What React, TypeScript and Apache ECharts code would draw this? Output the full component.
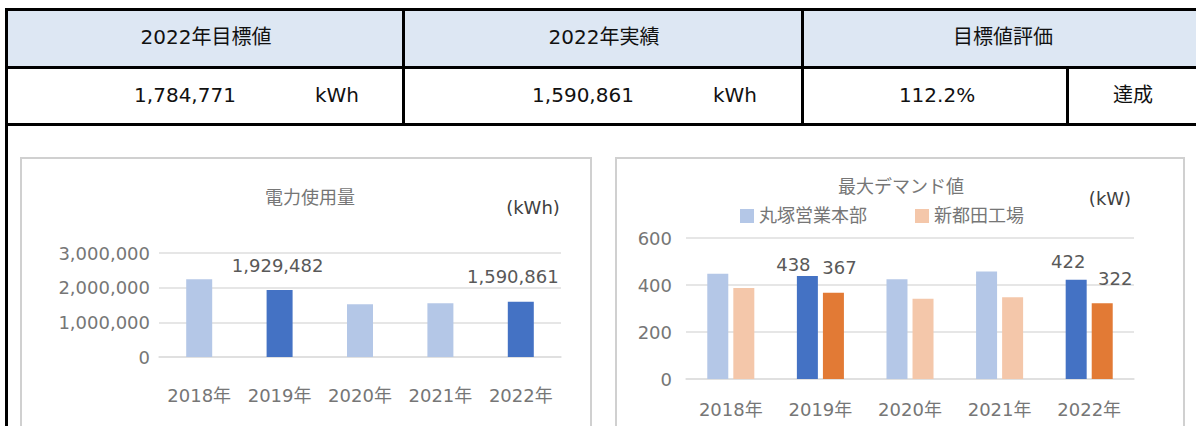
import React, { useEffect, useRef } from "react";
import * as echarts from "echarts";

const categories = ["2018年", "2019年", "2020年", "2021年", "2022年"];
const usage = [2240000, 1929482, 1519000, 1548000, 1590861];
const usageHighlight = [false, true, false, false, true];
const usageLabelOffset: (number[] | null)[] = [null, [-2, -11], null, null, [-8, -11]];

const seriesNames = ["丸塚営業本部", "新都田工場"];
const demandHQ = [448, 438, 425, 457, 422];
const demandPlant = [387, 367, 341, 348, 322];
const demandHighlight = [false, true, false, false, true];
const hqLabelOffset: (number[] | null)[] = [null, [-14, 2], null, null, [-8, -4]];
const plantLabelOffset: (number[] | null)[] = [null, [6, -11], null, null, [13, -11]];

const headerLabels = ["2022年目標値", "2022年実績", "目標値評価"];
const targetValue = "1,784,771";
const actualValue = "1,590,861";
const unitLabel = "kWh";
const rateValue = "112.2%";
const resultValue = "達成";

const FONT = '"DejaVu Sans", "Noto Sans CJK JP", sans-serif';
const LIGHT_BLUE = "#B4C7E7";
const DARK_BLUE = "#4472C4";
const LIGHT_ORANGE = "#F4C7AA";
const DARK_ORANGE = "#E27A35";

function fmt(v: number) {
  return v.toLocaleString("en-US");
}

export default function App() {
  const ref = useRef<HTMLDivElement>(null);
  useEffect(() => {
    if (!ref.current) return;
    const chart = echarts.init(ref.current, undefined, { renderer: "svg" });

    const tFont = (size: number) => `${size}px ${FONT}`;
    const txt = (text: string, x: number, y: number, size: number, fill: string) => ({
      type: "text",
      x,
      y,
      z: 30,
      silent: true,
      style: { text, fill, font: tFont(size), align: "center", verticalAlign: "middle" },
    });
    const rect = (x: number, y: number, w: number, h: number, fill: string, z = 10) => ({
      type: "rect",
      z,
      silent: true,
      shape: { x, y, width: w, height: h },
      style: { fill },
    });
    const box = (x: number, y: number, w: number, h: number) => ({
      type: "rect",
      z: 1,
      silent: true,
      shape: { x, y, width: w, height: h },
      style: { fill: "none", stroke: "#D0D0D0", lineWidth: 2 },
    });

    const usageData = usage.map((v, i) => ({
      value: v,
      itemStyle: { color: usageHighlight[i] ? DARK_BLUE : LIGHT_BLUE },
      label: usageLabelOffset[i]
        ? { show: true, offset: usageLabelOffset[i] }
        : { show: false },
    }));
    const hqData = demandHQ.map((v, i) => ({
      value: v,
      itemStyle: { color: demandHighlight[i] ? DARK_BLUE : LIGHT_BLUE },
      label: hqLabelOffset[i] ? { show: true, offset: hqLabelOffset[i] } : { show: false },
    }));
    const plantData = demandPlant.map((v, i) => ({
      value: v,
      itemStyle: { color: demandHighlight[i] ? DARK_ORANGE : LIGHT_ORANGE },
      label: plantLabelOffset[i] ? { show: true, offset: plantLabelOffset[i] } : { show: false },
    }));

    const labelCommon = {
      position: "top",
      distance: 5,
      color: "#595959",
      fontSize: 18,
      fontFamily: FONT,
    };

    const axisLabelStyle = { color: "#767676", fontSize: 18, fontFamily: FONT };
    const gridLine = { lineStyle: { color: "#DEDEDE", width: 1.5 } };

    chart.setOption({
      animation: false,
      textStyle: { fontFamily: FONT },
      grid: [
        { left: 159, top: 253, width: 402, height: 104, containLabel: false },
        { left: 686, top: 238, width: 448, height: 141, containLabel: false },
      ],
      legend: {
        left: 740,
        top: 207,
        padding: 0,
        itemWidth: 14,
        itemHeight: 14,
        itemGap: 48,
        icon: "rect",
        textStyle: { color: "#767676", fontSize: 18, fontFamily: FONT },
        data: [
          { name: seriesNames[0], itemStyle: { color: LIGHT_BLUE } },
          { name: seriesNames[1], itemStyle: { color: LIGHT_ORANGE } },
        ],
      },
      xAxis: [
        {
          type: "category",
          gridIndex: 0,
          data: categories,
          axisTick: { show: false },
          axisLine: { lineStyle: { color: "#DEDEDE", width: 1.5 } },
          axisLabel: { ...axisLabelStyle, margin: 29, interval: 0 },
        },
        {
          type: "category",
          gridIndex: 1,
          data: categories,
          axisTick: { show: false },
          axisLine: { lineStyle: { color: "#DEDEDE", width: 1.5 } },
          axisLabel: { ...axisLabelStyle, margin: 21, interval: 0 },
        },
      ],
      yAxis: [
        {
          type: "value",
          gridIndex: 0,
          min: 0,
          max: 3000000,
          interval: 1000000,
          axisLine: { show: false },
          axisTick: { show: false },
          splitLine: gridLine,
          axisLabel: { ...axisLabelStyle, margin: 9, formatter: (v: number) => fmt(v) },
        },
        {
          type: "value",
          gridIndex: 1,
          min: 0,
          max: 600,
          interval: 200,
          axisLine: { show: false },
          axisTick: { show: false },
          splitLine: gridLine,
          axisLabel: { ...axisLabelStyle, margin: 14 },
        },
      ],
      series: [
        {
          name: "電力使用量",
          type: "bar",
          xAxisIndex: 0,
          yAxisIndex: 0,
          barWidth: 26,
          data: usageData,
          label: { ...labelCommon, formatter: (p: any) => fmt(p.value) },
        },
        {
          name: seriesNames[0],
          type: "bar",
          xAxisIndex: 1,
          yAxisIndex: 1,
          barWidth: 21,
          barGap: "24%",
          data: hqData,
          label: { ...labelCommon },
        },
        {
          name: seriesNames[1],
          type: "bar",
          xAxisIndex: 1,
          yAxisIndex: 1,
          barWidth: 21,
          barGap: "24%",
          data: plantData,
          label: { ...labelCommon },
        },
      ],
      graphic: [
        // header background
        rect(7, 9, 1196, 58, "#DDE7F3", 5),
        // table borders
        rect(6, 8, 1196, 3, "#000"),
        rect(6, 66, 1196, 3, "#000"),
        rect(6, 123, 1196, 3, "#000"),
        rect(5, 8, 3, 420, "#000"),
        rect(402, 8, 3, 118, "#000"),
        rect(801, 8, 3, 118, "#000"),
        rect(1066, 67, 3, 59, "#000"),
        // table text
        txt(headerLabels[0], 206, 37, 20, "#111"),
        txt(headerLabels[1], 604, 37, 20, "#111"),
        txt(headerLabels[2], 1003, 37, 20, "#111"),
        txt(targetValue, 185, 95, 20, "#111"),
        txt(unitLabel, 337, 95, 20, "#111"),
        txt(actualValue, 583, 95, 20, "#111"),
        txt(unitLabel, 735, 95, 20, "#111"),
        txt(rateValue, 937, 95, 20, "#111"),
        txt(resultValue, 1133, 95, 20, "#111"),
        // chart boxes
        box(21, 158, 570, 290),
        box(616, 158, 568, 290),
        // titles
        txt("電力使用量", 310, 197, 18, "#767676"),
        txt("(kWh)", 533, 207, 18, "#404040"),
        txt("最大デマンド値", 901, 186, 18, "#767676"),
        txt("(kW)", 1110, 198, 18, "#404040"),
      ],
    });
    return () => chart.dispose();
  }, []);

  return (
    <div
      ref={ref}
      style={{ position: "absolute", left: 0, top: 0, width: 1196, height: 426, background: "#fff" }}
    />
  );
}
